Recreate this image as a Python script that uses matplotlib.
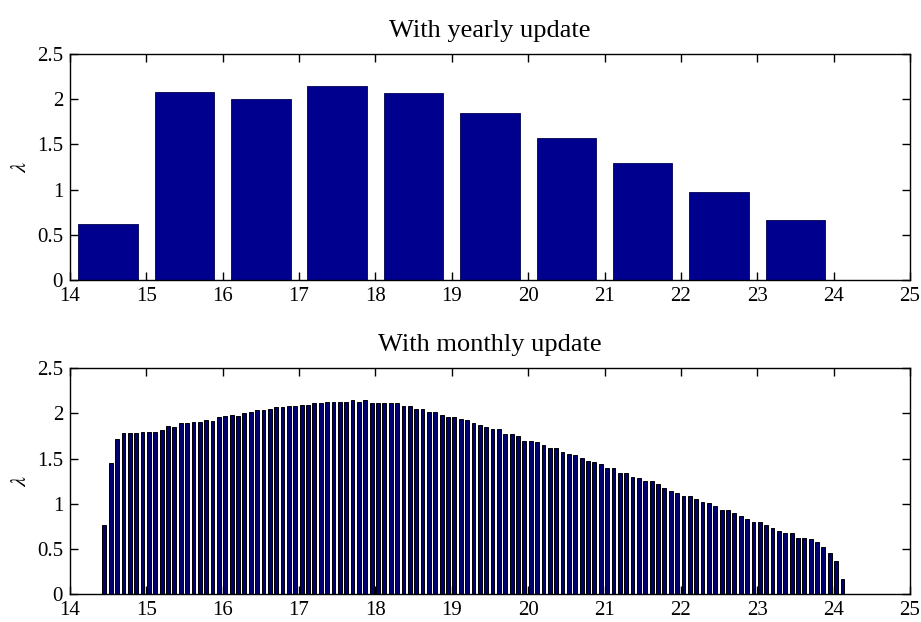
import numpy as np
import matplotlib
matplotlib.use("Agg")
import matplotlib.pyplot as plt

# yearly update: one bar per year of age
years = [14.5, 15.5, 16.5, 17.5, 18.5, 19.5, 20.5, 21.5, 22.5, 23.5]
lam_yearly = [0.62, 2.08, 2.00, 2.15, 2.07, 1.85, 1.57, 1.29, 0.97, 0.66]

# monthly update: one bar per month, starting at age 14.45
month_start = 14.45
lam_monthly = [
    0.77, 1.455, 1.716, 1.779, 1.779, 1.779, 1.797, 1.797, 1.797, 1.812,
    1.860, 1.845, 1.893, 1.893, 1.908, 1.908, 1.926, 1.910, 1.956, 1.970,
    1.981, 1.970, 2.000, 2.018, 2.033, 2.033, 2.048, 2.066, 2.066, 2.081,
    2.081, 2.095, 2.095, 2.110, 2.110, 2.128, 2.128, 2.128, 2.128, 2.147,
    2.128, 2.147, 2.110, 2.110, 2.110, 2.110, 2.110, 2.081, 2.081, 2.051,
    2.051, 2.018, 2.018, 1.985, 1.956, 1.956, 1.937, 1.922, 1.893, 1.874,
    1.845, 1.826, 1.826, 1.768, 1.768, 1.749, 1.697, 1.697, 1.679, 1.650,
    1.615, 1.613, 1.569, 1.550, 1.534, 1.501, 1.473, 1.458, 1.440, 1.392,
    1.392, 1.343, 1.343, 1.293, 1.282, 1.247, 1.247, 1.215, 1.180, 1.137,
    1.116, 1.087, 1.087, 1.057, 1.024, 1.006, 0.976, 0.928, 0.928, 0.895,
    0.862, 0.832, 0.799, 0.799, 0.770, 0.737, 0.703, 0.674, 0.674, 0.626,
    0.626, 0.608, 0.575, 0.527, 0.460, 0.368, 0.173,
]
months = month_start + np.arange(len(lam_monthly)) / 12.0

xticks = list(range(14, 26))
yticks = [0, 0.5, 1, 1.5, 2, 2.5]
ytick_labels = ["0", "0.5", "1", "1.5", "2", "2.5"]

plt.rcParams['font.family'] = ['Liberation Serif', 'DejaVu Serif']
plt.rcParams['mathtext.fontset'] = 'stix'

bar_color = '#00008F'

fig = plt.figure(figsize=(9.21, 6.22), dpi=100)
ax1 = fig.add_axes([0.076, 0.5498, 0.912, 0.3633])
ax2 = fig.add_axes([0.076, 0.0445, 0.912, 0.3638])

ax1.bar(years, lam_yearly, width=0.78, color=bar_color, edgecolor='#000050', linewidth=0.6)
ax2.bar(months, lam_monthly, width=0.6 / 12, color='#000070', edgecolor='black', linewidth=0.7)

for ax, title in [(ax1, 'With yearly update'), (ax2, 'With monthly update')]:
    ax.set_xlim(14, 25)
    ax.set_ylim(0, 2.5)
    ax.set_xticks(xticks)
    ax.set_xticklabels([str(t) for t in xticks])
    ax.set_yticks(yticks)
    ax.set_yticklabels(ytick_labels)
    ax.tick_params(direction='in', top=True, right=True, length=6, width=1,
                   labelsize=15)
    ax.tick_params(axis='x', pad=5)
    ax.tick_params(axis='y', pad=5)
    for s in ax.spines.values():
        s.set_linewidth(1)
    ax.set_title(title, fontsize=19, pad=12)
    ax.set_ylabel(r'$\lambda$', fontsize=16, labelpad=4)

fig.savefig('out.png', dpi=100)
